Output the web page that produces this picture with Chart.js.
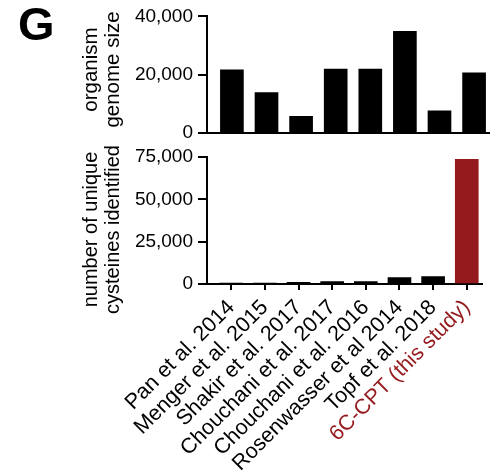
<!DOCTYPE html>
<html>
<head>
<meta charset="utf-8">
<script src="https://cdn.jsdelivr.net/npm/chart.js@4.4.1/dist/chart.umd.min.js"></script>
<style>
  html, body { margin: 0; padding: 0; background: #fff; }
  #wrap { position: relative; width: 490px; height: 476px; overflow: hidden; }
  #genomeChart { position: absolute; left: 0; top: 0; width: 490px; height: 149px; }
  #cysChart { position: absolute; left: 0; top: 140px; width: 490px; height: 336px; }
  #panel { position: absolute; left: 18px; top: 0px; font: bold 47px "Liberation Sans", Arial, sans-serif; line-height: 1; color: #000; }
</style>
</head>
<body>
<div id="wrap">
  <canvas id="genomeChart" width="490" height="149"></canvas>
  <canvas id="cysChart" width="490" height="336"></canvas>
  <div id="panel">G</div>
</div>
<script>
// Studies compared (x categories)
const studies = [
  'Pan et al. 2014',
  'Menger et al. 2015',
  'Shakir et al. 2017',
  'Chouchani et al. 2017',
  'Chouchani et al. 2016',
  'Rosenwasser et al 2014',
  'Topf et al. 2018',
  '6C-CPT (this study)'
];

// Organism genome size for each study
const genomeSize = [21600, 13800, 5600, 21900, 21900, 34900, 7500, 20600];

// Number of unique cysteines identified by each study
const cysteinesIdentified = [150, 500, 1000, 1400, 1400, 3800, 4400, 73600];

// Y-axis tick values
const genomeTicks = [0, 20000, 40000];
const cysteineTicks = [0, 25000, 50000, 75000];

// Y-axis title lines
const genomeTitle = ['organism', 'genome size'];
const cysteineTitle = ['number of unique', 'cysteines identified'];

const INK = '#000000';
const HIGHLIGHT = '#951a1d';
const FONT = '"Liberation Sans", Arial, Helvetica, sans-serif';
const studyColors = studies.map((_, i) => (i === studies.length - 1 ? HIGHLIGHT : INK));

Chart.defaults.font.family = FONT;
Chart.defaults.color = INK;

const X_MIN = -0.72, X_MAX = 7.46;
const AXIS_W = 207;

const toPoints = vals => vals.map((v, i) => ({ x: i, y: v }));
const setTicks = vals => scale => { scale.ticks = vals.map(v => ({ value: v })); };

// Draws a two-line rotated title beside the y axis
const sideTitle = {
  id: 'sideTitle',
  afterDraw(chart, args, opts) {
    const { ctx } = chart;
    const y = chart.scales.y;
    const cy = (y.top + y.bottom) / 2 + opts.shift;
    ctx.save();
    ctx.fillStyle = INK;
    ctx.font = `${opts.size}px ${FONT}`;
    ctx.textAlign = 'center';
    ctx.textBaseline = 'alphabetic';
    opts.lines.forEach((line, i) => {
      ctx.save();
      ctx.translate(opts.baselines[i], cy);
      ctx.rotate(-Math.PI / 2);
      ctx.fillText(line, 0, 0);
      ctx.restore();
    });
    ctx.restore();
  }
};

const yAxis = (max, ticks) => ({
  min: 0,
  max: max,
  afterBuildTicks: setTicks(ticks),
  afterFit: s => { s.width = AXIS_W; },
  grid: { drawOnChartArea: false, tickLength: 9, color: INK, lineWidth: 2 },
  border: { color: INK, width: 2 },
  ticks: { font: { size: 19 }, padding: 5, color: INK }
});

const common = {
  responsive: false,
  animation: false,
  events: []
};

// Upper panel: genome size
new Chart(document.getElementById('genomeChart'), {
  type: 'bar',
  data: {
    datasets: [{
      data: toPoints(genomeSize),
      backgroundColor: INK,
      barThickness: 23
    }]
  },
  plugins: [sideTitle],
  options: {
    ...common,
    plugins: {
      legend: { display: false },
      tooltip: { enabled: false },
      sideTitle: { lines: genomeTitle, size: 20.5, baselines: [97, 119], shift: -5 }
    },
    layout: { padding: { top: 15, bottom: 12, left: 0, right: 0 } },
    scales: {
      x: {
        type: 'linear',
        min: X_MIN,
        max: X_MAX,
        offset: false,
        grid: { display: false, drawTicks: false, offset: false },
        ticks: { display: false },
        border: { color: INK, width: 2 },
        afterFit: s => { s.height = 0; }
      },
      y: yAxis(40000, genomeTicks)
    }
  }
});

// Lower panel: unique cysteines identified
new Chart(document.getElementById('cysChart'), {
  type: 'bar',
  data: {
    datasets: [{
      data: toPoints(cysteinesIdentified),
      backgroundColor: studyColors,
      barThickness: 23
    }]
  },
  plugins: [sideTitle],
  options: {
    ...common,
    plugins: {
      legend: { display: false },
      tooltip: { enabled: false },
      sideTitle: { lines: cysteineTitle, size: 20, baselines: [97, 119], shift: 9 }
    },
    layout: { padding: { top: 17, bottom: 0, left: 0, right: 0 } },
    scales: {
      x: {
        type: 'linear',
        min: X_MIN,
        max: X_MAX,
        offset: false,
        afterBuildTicks: setTicks(studies.map((_, i) => i)),
        afterFit: s => { s.height = 192; },
        grid: { drawOnChartArea: false, tickLength: 6, color: INK, lineWidth: 2, offset: false },
        border: { color: INK, width: 2 },
        ticks: {
          autoSkip: false,
          minRotation: 45,
          maxRotation: 45,
          padding: 5,
          font: { size: 21.5 },
          color: ctx => studyColors[ctx.index],
          callback: (value, index) => studies[index]
        }
      },
      y: yAxis(75000, cysteineTicks)
    }
  }
});
</script>
</body>
</html>
